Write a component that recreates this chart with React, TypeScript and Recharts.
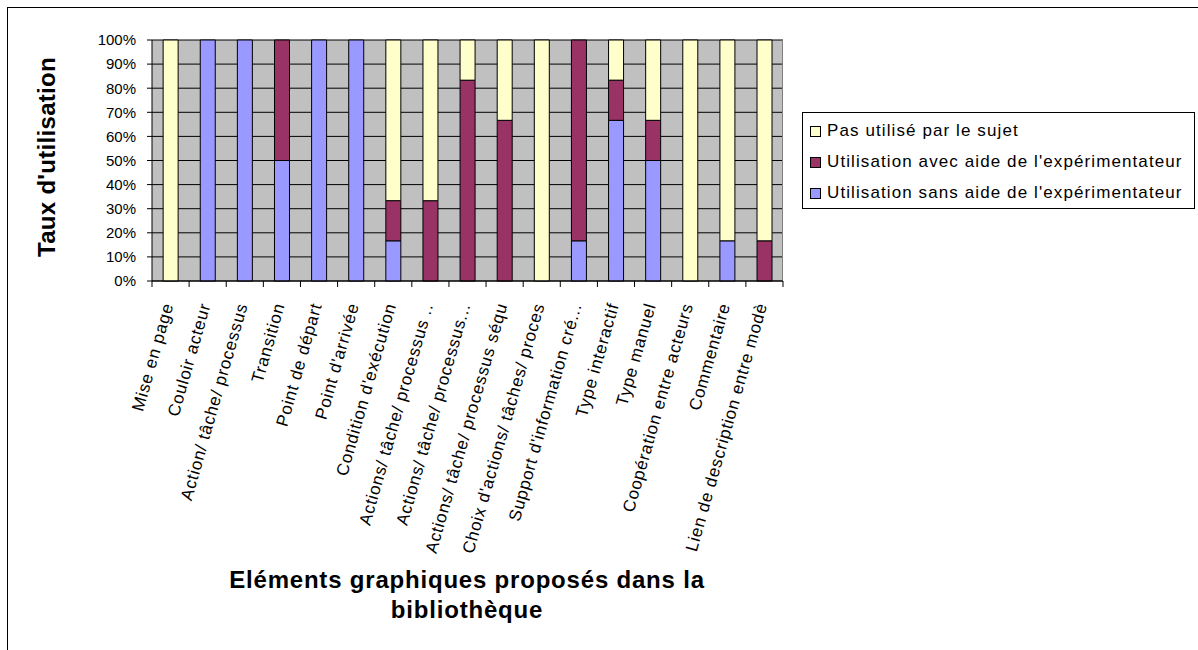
import React from 'react';
import { BarChart, Bar, XAxis, YAxis, CartesianGrid } from 'recharts';

const CATEGORIES = [
  'Mise en page',
  'Couloir acteur',
  'Action/ tâche/ processus',
  'Transition',
  'Point de départ',
  "Point d'arrivée",
  "Condition d'exécution",
  'Actions/ tâche/ processus ..',
  'Actions/ tâche/ processus...',
  'Actions/ tâche/ processus séqu',
  "Choix d'actions/ tâches/ proces",
  "Support d'information cré...",
  'Type interactif',
  'Type manuel',
  'Coopération entre acteurs',
  'Commentaire',
  'Lien de description entre modè',
];

const SANS = [0, 100, 100, 50, 100, 100, 16.67, 0, 0, 0, 0, 16.67, 66.67, 50, 0, 16.67, 0];
const AVEC = [0, 0, 0, 50, 0, 0, 16.67, 33.33, 83.33, 66.67, 0, 83.33, 16.67, 16.67, 0, 0, 16.67];
const PAS = [100, 0, 0, 0, 0, 0, 66.66, 66.67, 16.67, 33.33, 100, 0, 16.66, 33.33, 100, 83.33, 83.33];

const Y_TICKS = [0, 10, 20, 30, 40, 50, 60, 70, 80, 90, 100];

const SERIES = [
  { key: 'sans', name: "Utilisation sans aide de l'expérimentateur", color: '#9999FF' },
  { key: 'avec', name: "Utilisation avec aide de l'expérimentateur", color: '#993366' },
  { key: 'pas', name: 'Pas utilisé par le sujet', color: '#FFFFCC' },
];

const Y_TITLE = "Taux d'utilisation";
const X_TITLE_LINES = ['Eléments graphiques proposés dans la', 'bibliothèque'];

const data = CATEGORIES.map((name, i) => ({ name, sans: SANS[i], avec: AVEC[i], pas: PAS[i] }));

const FONT = '"Liberation Sans", Arial, Helvetica, sans-serif';
const W = 1198;
const H = 650;
const PLOT_L = 152;
const PLOT_R = 783;
const PLOT_T = 40;
const PLOT_B = 281;

const XTick = (props: any) => {
  const { x, y, payload, index } = props;
  const band = (PLOT_R - PLOT_L) / CATEGORIES.length;
  const left = x - band / 2;
  const ax = x + 3;
  const ay = y + 24;
  return (
    <g>
      <line x1={left} x2={left} y1={y} y2={y + 6} stroke="#000" />
      {index === CATEGORIES.length - 1 && (
        <line x1={left + band} x2={left + band} y1={y} y2={y + 6} stroke="#000" />
      )}
      <text
        x={ax}
        y={ay}
        transform={`rotate(-74, ${ax}, ${ay})`}
        textAnchor="end"
        fontSize={17}
        fill="#000"
        fontFamily={FONT}
        style={{ letterSpacing: 0.8 }}
      >
        {payload.value}
      </text>
    </g>
  );
};

export default function App() {
  const legendItems = [...SERIES].reverse();
  return (
    <div
      style={{
        position: 'absolute',
        left: 0,
        top: 0,
        width: W,
        height: H,
        overflow: 'hidden',
        background: '#fff',
        fontFamily: FONT,
      }}
    >
      <div
        style={{
          position: 'absolute',
          left: 7,
          top: 7,
          width: 1300,
          height: 800,
          border: '1px solid #000',
        }}
      />
      <div style={{ position: 'absolute', left: 0, top: 0 }}>
        <BarChart
          width={W}
          height={H}
          data={data}
          margin={{ top: PLOT_T, right: W - PLOT_R, bottom: 0, left: 0 }}
          barCategoryGap="30%"
        >
          <CartesianGrid
            vertical={false}
            stroke="#000"
            fill="#C0C0C0"
            fillOpacity={1}
          />
          <CartesianGrid horizontal={false} verticalPoints={[PLOT_R - 0.5]} stroke="#808080" />
          <XAxis
            dataKey="name"
            interval={0}
            height={H - PLOT_B}
            tickSize={0}
            tickMargin={0}
            tickLine={false}
            axisLine={{ stroke: '#000' }}
            tick={<XTick />}
          />
          <YAxis
            width={PLOT_L}
            domain={[0, 100]}
            ticks={Y_TICKS}
            interval={0}
            tickFormatter={(v: number) => `${v}%`}
            tickSize={5}
            tickMargin={11}
            axisLine={{ stroke: '#000' }}
            tickLine={{ stroke: '#000' }}
            tick={{ fontSize: 15, fill: '#000', fontFamily: FONT }}
          />
          {SERIES.map((s) => (
            <Bar
              key={s.key}
              dataKey={s.key}
              name={s.name}
              stackId="a"
              fill={s.color}
              stroke="#000"
              strokeWidth={1}
              isAnimationActive={false}
            />
          ))}
        </BarChart>
      </div>
      <svg
        width={W}
        height={H}
        style={{ position: 'absolute', left: 0, top: 0, pointerEvents: 'none' }}
      >
        <text
          x={46}
          y={157}
          transform="rotate(-90, 46, 157)"
          textAnchor="middle"
          dominantBaseline="central"
          fontSize={24}
          fontWeight="bold"
          fontFamily={FONT}
          style={{ letterSpacing: 0.3 }}
        >
          {Y_TITLE}
        </text>
        {X_TITLE_LINES.map((line, i) => (
          <text
            key={i}
            x={467}
            y={588 + i * 30}
            textAnchor="middle"
            fontSize={24}
            fontWeight="bold"
            fontFamily={FONT}
            style={{ letterSpacing: 0.8 }}
          >
            {line}
          </text>
        ))}
      </svg>
      <div
        style={{
          position: 'absolute',
          left: 802,
          top: 112,
          width: 393,
          height: 97,
          boxSizing: 'border-box',
          border: '1px solid #000',
          background: '#fff',
        }}
      >
        {legendItems.map((s, i) => (
          <div
            key={s.key}
            style={{
              position: 'absolute',
              left: 7,
              top: 18 + i * 31 - 10,
              height: 20,
              display: 'flex',
              alignItems: 'center',
              whiteSpace: 'nowrap',
            }}
          >
            <div
              style={{
                width: 11,
                height: 11,
                boxSizing: 'border-box',
                border: '1px solid #000',
                background: s.color,
                marginRight: 6,
              }}
            />
            <span style={{ fontSize: 17, letterSpacing: 1.1, color: '#000' }}>{s.name}</span>
          </div>
        ))}
      </div>
    </div>
  );
}
